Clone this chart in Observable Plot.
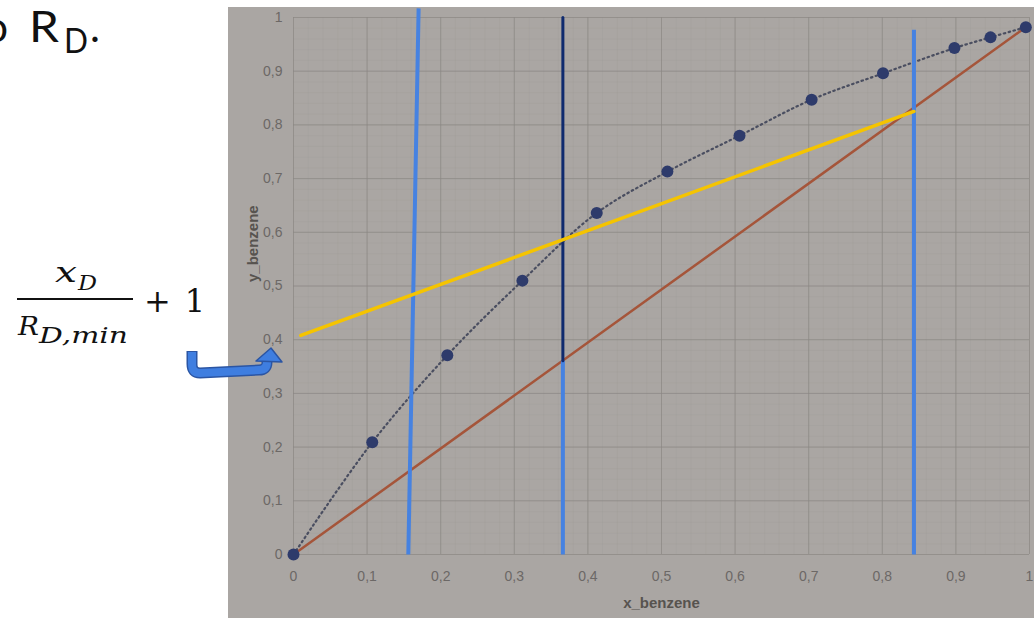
<!DOCTYPE html>
<html>
<head>
<meta charset="utf-8">
<script src="https://cdn.jsdelivr.net/npm/d3@7"></script>
<script src="https://cdn.jsdelivr.net/npm/@observablehq/plot@0.6"></script>
<style>
  html, body { margin: 0; padding: 0; background: #fff; }
  #wrap { position: relative; width: 1034px; height: 618px; overflow: hidden; background: #fff; }
  #chart { position: absolute; left: 228px; top: 7px; }
  #overlay { position: absolute; left: 0; top: 0; pointer-events: none; }
</style>
</head>
<body>
<div id="wrap">
  <div id="chart"></div>
  <svg id="overlay" width="1034" height="618" xmlns="http://www.w3.org/2000/svg">
    <!-- heading fragment (cut at the left edge as in the reference) -->
    <g font-family="Lato, 'Open Sans', sans-serif" fill="#111">
      <text x="8" y="42" font-size="42" text-anchor="end">o</text>
      <text x="29" y="42" font-size="42" textLength="30" lengthAdjust="spacingAndGlyphs">R</text>
      <text x="64" y="53" font-size="34" textLength="24" lengthAdjust="spacingAndGlyphs">D</text>
      <text x="90" y="42" font-size="42">.</text>
    </g>
    <!-- formula -->
    <g font-family="'DejaVu Serif', 'Liberation Serif', serif" fill="#111">
      <text x="55" y="282" font-size="28" font-style="italic" textLength="22" lengthAdjust="spacingAndGlyphs">x</text>
      <text x="78" y="290" font-size="21" font-style="italic" textLength="19" lengthAdjust="spacingAndGlyphs">D</text>
      <line x1="17" y1="299" x2="133" y2="299" stroke="#111" stroke-width="2"/>
      <text x="18" y="335" font-size="26" font-style="italic" textLength="21" lengthAdjust="spacingAndGlyphs">R</text>
      <text x="39" y="343" font-size="23" font-style="italic" textLength="89" lengthAdjust="spacingAndGlyphs">D,min</text>
      <text x="157.5" y="312" font-size="32" text-anchor="middle">+</text>
      <text x="195" y="312" font-size="32" text-anchor="middle">1</text>
    </g>
    <!-- bent arrow -->
    <g>
      <path d="M192,351 V364 Q192,373 200,373 L259,370 Q267,370 267,362 V360" fill="none" stroke="#2b55a3" stroke-width="11" stroke-linejoin="round"/>
      <path d="M192,352 V364 Q192,373 200,373 L259,370 Q267,370 267,362 V359" fill="none" stroke="#3f7ee0" stroke-width="8" stroke-linejoin="round"/>
      <polygon points="256,361 282,362 271,348" fill="#3f7ee0" stroke="#2b55a3" stroke-width="1.5" stroke-linejoin="round"/>
    </g>
  </svg>
</div>
<script>
// ---- data ----
const xEquilibrium = [0, 0.107, 0.209, 0.311, 0.412, 0.508, 0.606, 0.704, 0.801, 0.898, 0.947, 0.995];
const yEquilibrium = [0, 0.209, 0.371, 0.510, 0.636, 0.713, 0.780, 0.847, 0.896, 0.943, 0.963, 0.982];

const xDiagonal = [0, 0.995];
const yDiagonal = [0, 0.982];

const xOperating = [0.01, 0.843];
const yOperating = [0.408, 0.825];

// hand-drawn vertical guides (light blue): top x, bottom x, top y, bottom y
const guideXTop = [0.170, 0.366, 0.843];
const guideXBottom = [0.156, 0.366, 0.843];
const guideYTop = [1.017, 0.361, 0.977];
const guideYBottom = [0, 0, 0];

// dark guide above the diagonal
const navyX = [0.366, 0.366];
const navyY = [0.361, 1.0];

const tickValues = [0, 0.1, 0.2, 0.3, 0.4, 0.5, 0.6, 0.7, 0.8, 0.9, 1];
const tickLabels = ["0", "0,1", "0,2", "0,3", "0,4", "0,5", "0,6", "0,7", "0,8", "0,9", "1"];
const xLabel = "x_benzene";
const yLabel = "y_benzene";

// ---- tables built from the arrays ----
const equilibrium = xEquilibrium.map((x, i) => ({x, y: yEquilibrium[i]}));
const diagonal = xDiagonal.map((x, i) => ({x, y: yDiagonal[i]}));
const operating = xOperating.map((x, i) => ({x, y: yOperating[i]}));
const guides = guideXTop.map((x, i) => ({x1: x, y1: guideYTop[i], x2: guideXBottom[i], y2: guideYBottom[i]}));
const navy = navyX.map((x, i) => ({x, y: navyY[i]}));
const minorTicks = d3.range(0, 51).map(i => i / 50);
const fmt = d => tickLabels[tickValues.findIndex(t => Math.abs(t - d) < 1e-9)];

const chart = Plot.plot({
  width: 806,
  height: 611,
  marginLeft: 65,
  marginRight: 5,
  marginTop: 10,
  marginBottom: 64,
  style: {
    background: "#aaa6a3",
    fontFamily: "'Liberation Sans', Arial, sans-serif",
    overflow: "visible"
  },
  x: {domain: [0, 1]},
  y: {domain: [0, 1]},
  marks: [
    Plot.gridX(minorTicks, {stroke: "#938f8c", strokeOpacity: 0.13}),
    Plot.gridY(minorTicks, {stroke: "#938f8c", strokeOpacity: 0.13}),
    Plot.gridX(tickValues, {stroke: "#8c8885", strokeOpacity: 0.7}),
    Plot.gridY(tickValues, {stroke: "#8c8885", strokeOpacity: 0.7}),
    Plot.axisX(tickValues, {tickSize: 0, tickPadding: 17, tickFormat: fmt, fontSize: 14, fill: "#6c6866", label: null}),
    Plot.axisY(tickValues, {tickSize: 0, tickPadding: 11, tickFormat: fmt, fontSize: 14, fill: "#6c6866", label: null}),
    Plot.text([xLabel], {frameAnchor: "bottom", dy: 53, text: d => d, fontSize: 15, fontWeight: "bold", fill: "#57534f"}),
    Plot.text([yLabel], {frameAnchor: "left", dx: -40, dy: -4, rotate: -90, text: d => d, fontSize: 15, fontWeight: "bold", fill: "#57534f"}),
    Plot.line(diagonal, {x: "x", y: "y", stroke: "#a5553a", strokeWidth: 2.5}),
    Plot.line(equilibrium, {x: "x", y: "y", curve: "catmull-rom", stroke: "#4a4e60", strokeWidth: 2.2, strokeDasharray: "1.5,3.5", strokeLinecap: "round"}),
    Plot.dot(equilibrium, {x: "x", y: "y", r: 6, fill: "#2e3b6b", stroke: "none"}),
    Plot.link(guides, {x1: "x1", y1: "y1", x2: "x2", y2: "y2", stroke: "#4682e1", strokeWidth: 4}),
    Plot.line(navy, {x: "x", y: "y", stroke: "#0f2a6e", strokeWidth: 3}),
    Plot.line(operating, {x: "x", y: "y", stroke: "#f5c400", strokeWidth: 3.5})
  ]
});

document.getElementById("chart").appendChild(chart);
</script>
</body>
</html>
